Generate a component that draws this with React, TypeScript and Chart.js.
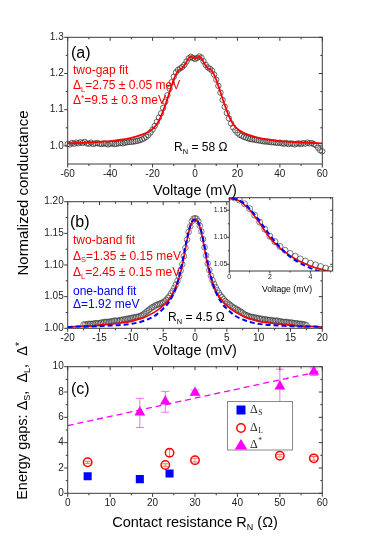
import React, { useEffect, useRef } from 'react';
import { Chart, registerables } from 'chart.js';

Chart.register(...registerables);

const FONT = "'Liberation Sans', Arial, sans-serif";
const SERIF = "'Liberation Serif', 'Times New Roman', serif";

// ---------------- Panel (a): R_N = 58 Ohm ----------------
const voltageA = [
  -60, -59, -58, -57, -56, -55, -54, -53, -52, -51, -50, -49, -48, -47, -46, -45, -44, -43, -42, -41,
  -40, -39, -38, -37, -36, -35, -34, -33, -32, -31, -30, -29, -28, -27, -26, -25, -24, -23, -22, -21,
  -20, -19, -18, -17, -16, -15, -14, -13, -12, -11, -10, -9, -8, -7, -6, -5, -4, -3, -2, -1,
  0,
  1, 2, 3, 4, 5, 6, 7, 8, 9, 10, 11, 12, 13, 14, 15, 16, 17, 18, 19, 20,
  21, 22, 23, 24, 25, 26, 27, 28, 29, 30, 31, 32, 33, 34, 35, 36, 37, 38, 39, 40,
  41, 42, 43, 44, 45, 46, 47, 48, 49, 50, 51, 52, 53, 54, 55, 56, 57, 58, 59, 60,
];
const conductanceA = [
  1.005, 1.004, 1.008, 1.006, 1.009, 1.007, 1.010, 1.008, 1.011, 1.007, 1.006, 1.009, 1.005, 1.007, 1.008, 1.006, 1.005, 1.007, 1.006, 1.004,
  1.006, 1.007, 1.005, 1.006, 1.007, 1.008, 1.007, 1.009, 1.010, 1.011, 1.011, 1.012, 1.013, 1.014, 1.016, 1.018, 1.021, 1.025, 1.030, 1.037,
  1.045, 1.055, 1.066, 1.078, 1.090, 1.105, 1.122, 1.140, 1.158, 1.176, 1.191, 1.203, 1.210, 1.214, 1.218, 1.224, 1.233, 1.242, 1.246, 1.243,
  1.240,
  1.243, 1.247, 1.244, 1.234, 1.224, 1.217, 1.213, 1.208, 1.197, 1.183, 1.166, 1.147, 1.127, 1.108, 1.091, 1.076, 1.062, 1.051, 1.043, 1.036,
  1.031, 1.028, 1.025, 1.023, 1.021, 1.019, 1.018, 1.017, 1.016, 1.015, 1.014, 1.013, 1.012, 1.012, 1.011, 1.010, 1.010, 1.009, 1.008, 1.009,
  1.007, 1.006, 1.008, 1.005, 1.007, 1.006, 1.004, 1.006, 1.007, 1.005, 1.008, 1.006, 1.009, 1.007, 1.008, 1.005, 1.002, 0.995, 0.988, 0.985,
];
const fitVoltageA = [
  -60, -55, -50, -45, -40, -35, -30, -25, -22, -20, -18, -17, -16, -15, -14, -13, -12, -11, -10, -9, -8, -7, -6, -5, -4, -3, -2, -1,
  0,
  1, 2, 3, 4, 5, 6, 7, 8, 9, 10, 11, 12, 13, 14, 15, 16, 17, 18, 20, 22, 25, 30, 35, 40, 45, 50, 55, 60,
];
const fitConductanceA = [
  1.007, 1.008, 1.009, 1.011, 1.013, 1.017, 1.022, 1.031, 1.039, 1.047, 1.060, 1.070, 1.082, 1.097, 1.113, 1.130, 1.148, 1.166, 1.183, 1.197, 1.207, 1.212, 1.215, 1.222, 1.232, 1.242, 1.247, 1.244,
  1.240,
  1.244, 1.247, 1.242, 1.232, 1.222, 1.215, 1.212, 1.207, 1.197, 1.183, 1.166, 1.148, 1.130, 1.113, 1.097, 1.082, 1.070, 1.060, 1.047, 1.039, 1.031, 1.022, 1.017, 1.013, 1.011, 1.009, 1.008, 1.007,
];
const ticksAX = [-60, -40, -20, 0, 20, 40, 60];
const minorAX = [-50, -30, -10, 10, 30, 50];
const ticksAY = [1.0, 1.1, 1.2, 1.3];
const minorAY = [1.05, 1.15, 1.25];

// ---------------- Panel (b): R_N = 4.5 Ohm ----------------
const voltageB = [
  -17.5, -17.25, -17, -16.75, -16.5, -16.25, -16, -15.75, -15.5, -15.25, -15, -14.75, -14.5, -14.25, -14, -13.75, -13.5, -13.25, -13, -12.75,
  -12.5, -12.25, -12, -11.75, -11.5, -11.25, -11, -10.75, -10.5, -10.25, -10, -9.75, -9.5, -9.25, -9, -8.75, -8.5, -8.25, -8, -7.75,
  -7.5, -7.25, -7, -6.75, -6.5, -6.25, -6, -5.75, -5.5, -5.25, -5, -4.75, -4.5, -4.25, -4, -3.75, -3.5, -3.25, -3, -2.75,
  -2.5, -2.25, -2, -1.75, -1.5, -1.25, -1, -0.75, -0.5, -0.25,
  0,
  0.25, 0.5, 0.75, 1, 1.25, 1.5, 1.75, 2, 2.25, 2.5,
  2.75, 3, 3.25, 3.5, 3.75, 4, 4.25, 4.5, 4.75, 5, 5.25, 5.5, 5.75, 6, 6.25, 6.5, 6.75, 7, 7.25, 7.5,
  7.75, 8, 8.25, 8.5, 8.75, 9, 9.25, 9.5, 9.75, 10, 10.25, 10.5, 10.75, 11, 11.25, 11.5, 11.75, 12, 12.25, 12.5,
  12.75, 13, 13.25, 13.5, 13.75, 14, 14.25, 14.5, 14.75, 15, 15.25, 15.5, 15.75, 16, 16.25, 16.5, 16.75, 17, 17.25, 17.5,
];
const conductanceB = [
  1.006, 1.006, 1.006, 1.007, 1.007, 1.007, 1.007, 1.008, 1.008, 1.008, 1.008, 1.009, 1.009, 1.010, 1.010, 1.010, 1.010, 1.011, 1.011, 1.012,
  1.012, 1.012, 1.012, 1.013, 1.013, 1.014, 1.014, 1.015, 1.015, 1.016, 1.016, 1.017, 1.017, 1.018, 1.018, 1.019, 1.020, 1.021, 1.023, 1.025,
  1.027, 1.029, 1.031, 1.033, 1.034, 1.036, 1.037, 1.038, 1.039, 1.040, 1.041, 1.043, 1.045, 1.048, 1.051, 1.055, 1.059, 1.064, 1.069, 1.075,
  1.082, 1.091, 1.101, 1.114, 1.127, 1.140, 1.152, 1.161, 1.169, 1.173,
  1.174,
  1.173, 1.169, 1.162, 1.153, 1.141, 1.128, 1.115, 1.102, 1.092, 1.083,
  1.076, 1.070, 1.065, 1.060, 1.056, 1.052, 1.049, 1.046, 1.043, 1.041, 1.039, 1.037, 1.035, 1.033, 1.032, 1.030, 1.029, 1.027, 1.026, 1.024,
  1.022, 1.021, 1.020, 1.019, 1.018, 1.018, 1.017, 1.017, 1.016, 1.016, 1.015, 1.015, 1.014, 1.014, 1.014, 1.013, 1.013, 1.013, 1.012, 1.012,
  1.012, 1.012, 1.011, 1.011, 1.010, 1.010, 1.010, 1.010, 1.009, 1.009, 1.009, 1.008, 1.008, 1.008, 1.007, 1.007, 1.007, 1.006, 1.006, 1.005,
];
const fitVoltageB = [
  -20, -18, -16, -14, -12, -10, -9, -8, -7, -6, -5, -4.5, -4, -3.5, -3, -2.5, -2, -1.75, -1.5, -1.25, -1, -0.75, -0.5, -0.25,
  0,
  0.25, 0.5, 0.75, 1, 1.25, 1.5, 1.75, 2, 2.5, 3, 3.5, 4, 4.5, 5, 6, 7, 8, 9, 10, 12, 14, 16, 18, 20,
];
const twoBandFitB = [
  1.002, 1.003, 1.004, 1.006, 1.008, 1.011, 1.014, 1.017, 1.022, 1.028, 1.036, 1.041, 1.047, 1.055, 1.066, 1.080, 1.099, 1.112, 1.126, 1.139, 1.151, 1.160, 1.167, 1.171,
  1.172,
  1.171, 1.167, 1.160, 1.151, 1.139, 1.126, 1.112, 1.099, 1.080, 1.066, 1.055, 1.047, 1.041, 1.036, 1.028, 1.022, 1.017, 1.014, 1.011, 1.008, 1.006, 1.004, 1.003, 1.002,
];
const oneBandFitB = [
  1.002, 1.003, 1.003, 1.004, 1.005, 1.007, 1.009, 1.012, 1.016, 1.022, 1.031, 1.036, 1.043, 1.052, 1.064, 1.082, 1.104, 1.117, 1.130, 1.142, 1.153, 1.162, 1.168, 1.171,
  1.172,
  1.171, 1.168, 1.162, 1.153, 1.142, 1.130, 1.117, 1.104, 1.082, 1.064, 1.052, 1.043, 1.036, 1.031, 1.022, 1.016, 1.012, 1.009, 1.007, 1.005, 1.004, 1.003, 1.003, 1.002,
];
const ticksBX = [-20, -15, -10, -5, 0, 5, 10, 15, 20];
const minorBX = [-17.5, -12.5, -7.5, -2.5, 2.5, 7.5, 12.5, 17.5];
const ticksBY = [1.0, 1.05, 1.1, 1.15, 1.2];
const minorBY = [1.025, 1.075, 1.125, 1.175];
const ticksInsetX = [0, 2, 4];
const minorInsetX = [1, 3, 5];
const ticksInsetY = [1.05, 1.1, 1.15];
const minorInsetY = [1.075, 1.125];

// ---------------- Panel (c): gaps vs contact resistance ----------------
const rnS = [4.7, 17, 24];
const deltaS = [1.35, 1.12, 1.57];
const rnL = [4.7, 23, 24, 30, 50, 58];
const deltaL = [2.45, 2.23, 3.2, 2.62, 2.97, 2.76];
const deltaLErr = [0.08, 0.1, 0.3, 0.15, 0.1, 0.15];
const rnStar = [17, 23, 30, 50, 58];
const deltaStar = [6.4, 7.25, 7.95, 8.45, 9.6];
const deltaStarLow = [5.2, 6.4, 7.75, 7.0, 9.3];
const deltaStarHigh = [7.5, 8.05, 8.15, 9.8, 9.9];
const trendRn = [0, 60];
const trendStar = [5.35, 9.68];
const ticksCX = [0, 10, 20, 30, 40, 50, 60];
const minorCX = [5, 15, 25, 35, 45, 55];
const ticksCY = [0, 2, 4, 6, 8, 10];
const minorCY = [1, 3, 5, 7, 9];

const RED = '#ff0000';
const BLUE = '#0000ff';
const MAGENTA = '#ff00ff';

const pts = (xs: number[], ys: number[]) => xs.map((x, i) => ({ x, y: ys[i] }));

// frame + ticks on all four sides
const frameTicks = {
  id: 'frameTicks',
  afterDraw(chart: any, _a: any, o: any) {
    const { ctx, chartArea: a, scales } = chart;
    const xs = scales.x, ys = scales.y;
    ctx.save();
    ctx.strokeStyle = '#3a3a3a';
    ctx.lineWidth = 1;
    ctx.strokeRect(a.left, a.top, a.right - a.left, a.bottom - a.top);
    const dx = (vals: number[], len: number) => {
      vals.forEach((v) => {
        const p = xs.getPixelForValue(v);
        if (p < a.left - 0.5 || p > a.right + 0.5) return;
        ctx.beginPath();
        ctx.moveTo(p, a.bottom); ctx.lineTo(p, a.bottom + len);
        ctx.moveTo(p, a.top); ctx.lineTo(p, a.top + len);
        ctx.stroke();
      });
    };
    const dy = (vals: number[], len: number) => {
      vals.forEach((v) => {
        const p = ys.getPixelForValue(v);
        if (p < a.top - 0.5 || p > a.bottom + 0.5) return;
        ctx.beginPath();
        ctx.moveTo(a.left - len, p); ctx.lineTo(a.left, p);
        ctx.moveTo(a.right - len, p); ctx.lineTo(a.right, p);
        ctx.stroke();
      });
    };
    dx(o.xMajor, o.major); dx(o.xMinor, o.minor);
    dy(o.yMajor, o.major); dy(o.yMinor, o.minor);
    ctx.restore();
  },
};

const whiteArea = {
  id: 'whiteArea',
  beforeDraw(chart: any) {
    const { ctx, chartArea: a } = chart;
    ctx.save();
    ctx.fillStyle = '#ffffff';
    ctx.fillRect(a.left, a.top, a.right - a.left, a.bottom - a.top);
    ctx.restore();
  },
};

const errorBars = {
  id: 'errorBars',
  beforeDatasetsDraw(chart: any) {
    const { ctx, scales } = chart;
    const xs = scales.x, ys = scales.y;
    ctx.save();
    ctx.lineWidth = 1;
    const draw = (xv: number[], lo: number[], hi: number[], color: string, cap: number) => {
      ctx.strokeStyle = color;
      xv.forEach((x, i) => {
        const px = xs.getPixelForValue(x);
        const p1 = ys.getPixelForValue(lo[i]);
        const p2 = ys.getPixelForValue(hi[i]);
        ctx.beginPath();
        ctx.moveTo(px, p1); ctx.lineTo(px, p2);
        ctx.moveTo(px - cap, p1); ctx.lineTo(px + cap, p1);
        ctx.moveTo(px - cap, p2); ctx.lineTo(px + cap, p2);
        ctx.stroke();
      });
    };
    draw(rnStar, deltaStarLow, deltaStarHigh, '#f070f0', 4);
    draw(rnL, deltaL.map((d, i) => d - deltaLErr[i]), deltaL.map((d, i) => d + deltaLErr[i]), '#ff7070', 3);
    ctx.restore();
  },
};

const legendC = {
  id: 'legendC',
  afterDraw(chart: any) {
    const ctx = chart.ctx;
    ctx.save();
    const bx = 227.5, by = 46.5, bw = 65, bh = 48.5;
    ctx.fillStyle = '#ffffff';
    ctx.fillRect(bx, by, bw, bh);
    ctx.strokeStyle = '#888888';
    ctx.lineWidth = 1;
    ctx.strokeRect(bx, by, bw, bh);
    const mx = 241;
    const rows = [55, 73, 90];
    ctx.fillStyle = BLUE;
    ctx.fillRect(mx - 4.5, rows[0] - 4.5, 9, 9);
    ctx.strokeStyle = RED;
    ctx.lineWidth = 1.5;
    ctx.beginPath();
    ctx.arc(mx, rows[1], 4.2, 0, Math.PI * 2);
    ctx.stroke();
    ctx.fillStyle = MAGENTA;
    ctx.beginPath();
    ctx.moveTo(mx, rows[2] - 6);
    ctx.lineTo(mx + 6.3, rows[2] + 4.5);
    ctx.lineTo(mx - 6.3, rows[2] + 4.5);
    ctx.closePath();
    ctx.fill();
    ctx.fillStyle = '#222222';
    ctx.textBaseline = 'middle';
    const tx = 250;
    const label = (row: number, small: string, sup: boolean) => {
      ctx.font = `12px ${SERIF}`;
      ctx.fillText('Δ', tx, row);
      const w = ctx.measureText('Δ').width;
      ctx.font = `7.5px ${SERIF}`;
      ctx.fillText(small, tx + w + 0.5, row + (sup ? -4 : 3.5));
    };
    label(rows[0], 'S', false);
    label(rows[1], 'L', false);
    label(rows[2], '*', true);
    ctx.restore();
  },
};

function axis(min: number, max: number, ticks: number[], fmt: (v: number) => string, size: number, fitPx: number, horizontal: boolean, pad: number) {
  return {
    type: 'linear',
    min,
    max,
    grid: { display: false, drawTicks: false },
    border: { display: false },
    afterBuildTicks: (s: any) => {
      s.ticks = ticks.map((v) => ({ value: v }));
    },
    afterFit: (s: any) => {
      if (horizontal) s.height = fitPx;
      else s.width = fitPx;
    },
    ticks: {
      autoSkip: false,
      maxRotation: 0,
      minRotation: 0,
      padding: pad,
      color: '#222222',
      font: { family: FONT, size },
      callback: (v: any) => fmt(Number(v)),
    },
  };
}

const baseOptions = (padding: any, scales: any, ft: any) => ({
  responsive: false,
  animation: false,
  events: [],
  layout: { padding },
  scales,
  plugins: {
    legend: { display: false },
    tooltip: { enabled: false },
    title: { display: false },
    frameTicks: ft,
  },
});

const Sub = ({ c }: { c: string }) => (
  <span style={{ fontSize: '0.62em', position: 'relative', top: '0.35em' }}>{c}</span>
);
const Sup = ({ c }: { c: string }) => (
  <span style={{ fontSize: '0.7em', position: 'relative', top: '-0.4em' }}>{c}</span>
);

const T = ({ x, y, size = 12, color = '#000', center = false, rotate = false, children }: any) => {
  let transform = center ? 'translate(-50%,-50%)' : 'translateY(-50%)';
  if (rotate) transform = 'translate(-50%,-50%) rotate(-90deg)';
  return (
    <div
      style={{
        position: 'absolute',
        left: x,
        top: y,
        transform,
        fontSize: size,
        color,
        fontFamily: FONT,
        lineHeight: 1,
        whiteSpace: 'nowrap',
      }}
    >
      {children}
    </div>
  );
};

export default function App() {
  const refA = useRef<HTMLCanvasElement>(null);
  const refB = useRef<HTMLCanvasElement>(null);
  const refInset = useRef<HTMLCanvasElement>(null);
  const refC = useRef<HTMLCanvasElement>(null);

  useEffect(() => {
    const charts: Chart[] = [];

    charts.push(
      new Chart(refA.current as HTMLCanvasElement, {
        type: 'scatter',
        data: {
          datasets: [
            {
              data: pts(voltageA, conductanceA),
              pointStyle: 'circle',
              pointRadius: 2.7,
              pointBorderWidth: 0.8,
              pointBorderColor: 'rgba(45,45,45,0.9)',
              pointBackgroundColor: 'rgba(0,0,0,0)',
              showLine: false,
              order: 3,
              clip: 4,
            } as any,
            {
              data: pts(fitVoltageA, fitConductanceA),
              showLine: true,
              borderColor: RED,
              borderWidth: 1.8,
              pointRadius: 0,
              cubicInterpolationMode: 'monotone',
              order: 1,
              clip: 2,
            } as any,
          ],
        },
        options: baseOptions(
          { left: 0, top: 37.3, right: 51.7, bottom: 0 },
          {
            x: axis(-60, 60, ticksAX, (v) => String(v), 10, 21, true, 4),
            y: axis(0.95, 1.3, ticksAY, (v) => v.toFixed(1), 10, 67.7, false, 4),
          },
          { xMajor: ticksAX, xMinor: minorAX, yMajor: ticksAY, yMinor: minorAY, major: 3.5, minor: 2 }
        ) as any,
        plugins: [frameTicks],
      })
    );

    const bDatasets = (r: number) => [
      {
        data: pts(voltageB, conductanceB),
        pointStyle: 'circle',
        pointRadius: r,
        pointBorderWidth: 0.8,
        pointBorderColor: 'rgba(55,55,55,0.8)',
        pointBackgroundColor: 'rgba(0,0,0,0)',
        showLine: false,
        order: 3,
      },
      {
        data: pts(fitVoltageB, twoBandFitB),
        showLine: true,
        borderColor: RED,
        borderWidth: 1.7,
        pointRadius: 0,
        cubicInterpolationMode: 'monotone',
        order: 2,
      },
      {
        data: pts(fitVoltageB, oneBandFitB),
        showLine: true,
        borderColor: BLUE,
        borderWidth: 2,
        borderDash: [5, 3],
        pointRadius: 0,
        cubicInterpolationMode: 'monotone',
        order: 1,
      },
    ];

    charts.push(
      new Chart(refB.current as HTMLCanvasElement, {
        type: 'scatter',
        data: { datasets: bDatasets(2.8).map((d) => ({ ...d, clip: 4 })) as any },
        options: baseOptions(
          { left: 0, top: 16.7, right: 51.7, bottom: 0 },
          {
            x: axis(-20, 20, ticksBX, (v) => String(v), 10, 26.7, true, 4),
            y: axis(1.0, 1.2, ticksBY, (v) => v.toFixed(2), 10, 67.7, false, 4),
          },
          { xMajor: ticksBX, xMinor: minorBX, yMajor: ticksBY, yMinor: minorBY, major: 3.5, minor: 2 }
        ) as any,
        plugins: [frameTicks],
      })
    );

    charts.push(
      new Chart(refInset.current as HTMLCanvasElement, {
        type: 'scatter',
        data: { datasets: bDatasets(3).map((d) => ({ ...d, clip: 0 })) as any },
        options: baseOptions(
          { left: 0, top: 7.7, right: 7.3, bottom: 0 },
          {
            x: axis(0, 5.1, ticksInsetX, (v) => String(v), 7, 29, true, 2),
            y: axis(1.0376, 1.1733, ticksInsetY, (v) => v.toFixed(2), 7, 29.3, false, 2),
          },
          { xMajor: ticksInsetX, xMinor: minorInsetX, yMajor: ticksInsetY, yMinor: minorInsetY, major: 2.5, minor: 1.5 }
        ) as any,
        plugins: [whiteArea, frameTicks],
      })
    );

    charts.push(
      new Chart(refC.current as HTMLCanvasElement, {
        type: 'scatter',
        data: {
          datasets: [
            {
              data: pts(trendRn, trendStar),
              showLine: true,
              borderColor: MAGENTA,
              borderWidth: 1.3,
              borderDash: [6, 4],
              pointRadius: 0,
              order: 5,
            },
            {
              data: pts(rnS, deltaS),
              pointStyle: 'rect',
              pointRadius: 5.7,
              pointBackgroundColor: BLUE,
              pointBorderColor: BLUE,
              pointBorderWidth: 0,
              showLine: false,
              order: 2,
            },
            {
              data: pts(rnL, deltaL),
              pointStyle: 'circle',
              pointRadius: 4.2,
              pointBackgroundColor: 'rgba(255,255,255,0)',
              pointBorderColor: RED,
              pointBorderWidth: 1.5,
              showLine: false,
              order: 3,
            },
            {
              data: pts(rnStar, deltaStar),
              pointStyle: 'triangle',
              pointRadius: 6.2,
              pointBackgroundColor: MAGENTA,
              pointBorderColor: MAGENTA,
              pointBorderWidth: 0,
              showLine: false,
              order: 1,
            },
          ].map((d) => ({ ...d, clip: 8 })) as any,
        },
        options: baseOptions(
          { left: 0, top: 11.7, right: 51.7, bottom: 0 },
          {
            x: axis(0, 60, ticksCX, (v) => String(v), 10, 42.7, true, 4),
            y: axis(0, 10, ticksCY, (v) => String(v), 10, 67.7, false, 4),
          },
          { xMajor: ticksCX, xMinor: minorCX, yMajor: ticksCY, yMinor: minorCY, major: 3.5, minor: 2 }
        ) as any,
        plugins: [errorBars, frameTicks, legendC],
      })
    );

    return () => charts.forEach((c) => c.destroy());
  }, []);

  const cv = (left: number, top: number, w: number, h: number) => ({
    position: 'absolute' as const,
    left,
    top,
    width: w,
    height: h,
  });

  return (
    <div style={{ position: 'absolute', left: 0, top: 0, width: 374, height: 536, overflow: 'hidden', background: '#fff' }}>
      <canvas ref={refA} width={374} height={185} style={cv(0, 0, 374, 185)} />
      <canvas ref={refB} width={374} height={170} style={cv(0, 185, 374, 170)} />
      <canvas ref={refInset} width={140} height={110} style={cv(200, 190, 140, 110)} />
      <canvas ref={refC} width={374} height={181} style={cv(0, 355, 374, 181)} />

      <T x={22} y={193} size={15} rotate>Normalized conductance</T>
      <T x={22} y={421} size={14.5} rotate>
        Energy gaps: Δ<Sub c="S" />,&nbsp; Δ<Sub c="L" />,&nbsp; Δ<Sup c="*" />
      </T>

      <T x={71} y={52.5} size={16}>(a)</T>
      <T x={73} y={70} size={12} color={RED}>two-gap fit</T>
      <T x={73} y={85} size={12} color={RED}>Δ<Sub c="L" />=2.75 ± 0.05 meV</T>
      <T x={73} y={100} size={12} color={RED}>Δ<Sup c="*" />=9.5 ± 0.3 meV</T>
      <T x={174} y={147} size={12}>R<Sub c="N" /> = 58 Ω</T>
      <T x={195} y={190} size={14.5} center>Voltage (mV)</T>

      <T x={70} y={222} size={16}>(b)</T>
      <T x={73} y={239.5} size={12} color={RED}>two-band fit</T>
      <T x={73} y={255.5} size={12} color={RED}>Δ<Sub c="S" />=1.35 ± 0.15 meV</T>
      <T x={73} y={272} size={12} color={RED}>Δ<Sub c="L" />=2.45 ± 0.15 meV</T>
      <T x={73} y={290.5} size={12} color={BLUE}>one-band fit</T>
      <T x={73} y={303.5} size={12} color={BLUE}>Δ=1.92 meV</T>
      <T x={168} y={317} size={12}>R<Sub c="N" /> = 4.5 Ω</T>
      <T x={287} y={289} size={8.7} center>Voltage (mV)</T>
      <T x={195} y={350} size={14.5} center>Voltage (mV)</T>

      <T x={71} y={389} size={16}>(c)</T>
      <T x={195} y={521.5} size={14.5} center>Contact resistance R<Sub c="N" /> (Ω)</T>
    </div>
  );
}
